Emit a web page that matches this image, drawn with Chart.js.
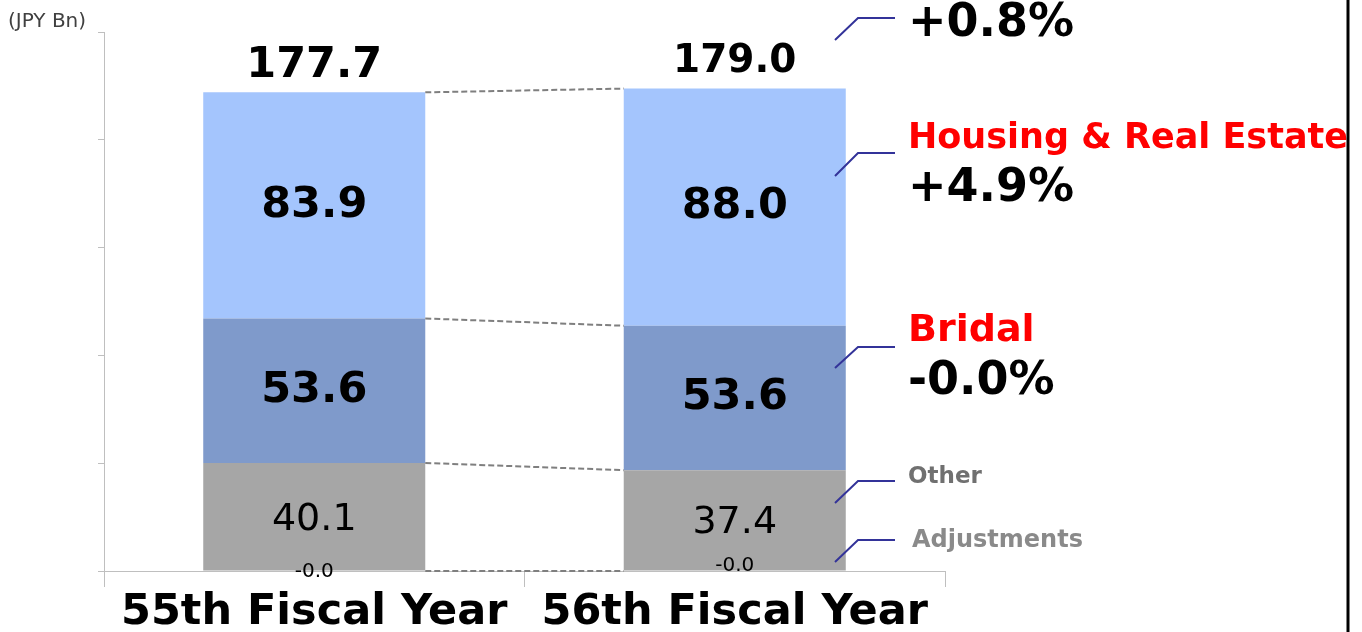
<!DOCTYPE html>
<html>
<head>
<meta charset="utf-8">
<script src="https://cdn.jsdelivr.net/npm/chart.js@4/dist/chart.umd.min.js"></script>
<style>
  body { margin: 0; background: #fff; }
  #wrap { width: 1362px; height: 632px; position: relative; }
</style>
</head>
<body>
<div id="wrap"><canvas id="myChart" width="1362" height="632"></canvas></div>
<script>
const years = ['55th Fiscal Year', '56th Fiscal Year'];
const adjustments = [-0.01, -0.01];
const other = [40.1, 37.4];
const bridal = [53.6, 53.6];
const housing = [83.9, 88.0];
const totals = [177.7, 179.0];
const yTicks = [0, 40, 80, 120, 160, 200];

const FONT = '"DejaVu Sans", Verdana, sans-serif';
const gridGrey = '#bfbfbf';

// bar value labels, connectors and the notes on the right
const labelsPlugin = {
    id: 'labels',
    afterDatasetsDraw(chart) {
        const ctx = chart.ctx;
        const metas = [0, 1, 2, 3].map(i => chart.getDatasetMeta(i));
        ctx.save();

        // dashed connectors between bar tops
        ctx.strokeStyle = '#7f7f7f';
        ctx.lineWidth = 2;
        ctx.setLineDash([6, 3]);
        metas.forEach(meta => {
            const a = meta.data[0], b = meta.data[1];
            ctx.beginPath();
            ctx.moveTo(a.x + a.width / 2, a.y);
            ctx.lineTo(b.x - b.width / 2, b.y);
            ctx.stroke();
        });
        ctx.setLineDash([]);

        ctx.textAlign = 'center';
        ctx.textBaseline = 'middle';
        const segs = [
            { meta: metas[1], data: other, font: '38px ' + FONT, dy: 3 },
            { meta: metas[2], data: bridal, font: 'bold 43px ' + FONT, dy: 0 },
            { meta: metas[3], data: housing, font: 'bold 43px ' + FONT, dy: 0 }
        ];
        segs.forEach(s => {
            s.meta.data.forEach((bar, i) => {
                ctx.font = s.font;
                ctx.fillStyle = '#000';
                ctx.fillText(s.data[i].toFixed(1), bar.x, (bar.y + bar.base) / 2 + s.dy);
            });
        });
        metas[0].data.forEach((bar, i) => {
            ctx.font = '20px ' + FONT;
            ctx.fillStyle = '#000';
            ctx.fillText(adjustments[i].toFixed(1), bar.x, bar.base - i * 6);
        });
        metas[3].data.forEach((bar, i) => {
            ctx.font = 'bold ' + (i === 0 ? 43 : 39) + 'px ' + FONT;
            ctx.fillStyle = '#000';
            ctx.fillText(totals[i].toFixed(1), bar.x, bar.y - 27);
        });

        // notes on the right
        const notes = [
            { y0: 40, y1: 18, lines: [['+0.8%', 'bold 46px', '#000', 24]] },
            { y0: 176, y1: 153, lines: [['Housing & Real Estate', 'bold 35px', '#ff0000', 139], ['+4.9%', 'bold 46px', '#000', 189]] },
            { y0: 368, y1: 347, lines: [['Bridal', 'bold 38px', '#ff0000', 331], ['-0.0%', 'bold 46px', '#000', 382]] },
            { y0: 503, y1: 481, lines: [['Other', 'bold 23px', '#707070', 477]] },
            { y0: 562, y1: 540, lines: [['Adjustments', 'bold 24px', '#8a8a8a', 541, 912]] }
        ];
        ctx.strokeStyle = '#333399';
        ctx.lineWidth = 2;
        ctx.textAlign = 'left';
        notes.forEach(n => {
            ctx.beginPath();
            ctx.moveTo(835, n.y0);
            ctx.lineTo(858, n.y1);
            ctx.lineTo(895, n.y1);
            ctx.stroke();
            n.lines.forEach(l => {
                ctx.font = l[1] + ' ' + FONT;
                ctx.fillStyle = l[2];
                ctx.fillText(l[0], l[4] || 908, l[3]);
            });
        });

        ctx.font = '20px ' + FONT;
        ctx.fillStyle = '#404040';
        ctx.fillText('(JPY Bn)', 8, 22);

        // frame edge on the right
        ctx.strokeStyle = '#000';
        ctx.lineWidth = 3;
        ctx.beginPath();
        ctx.moveTo(1348, 0);
        ctx.lineTo(1348, 632);
        ctx.stroke();
        ctx.restore();
    }
};

const ctx = document.getElementById('myChart');
const myChart = new Chart(ctx, { // eslint-disable-line
    type: 'bar',
    data: {
        labels: years,
        datasets: [
            { label: 'Adjustments', data: adjustments, backgroundColor: '#a6a6a6' },
            { label: 'Other', data: other, backgroundColor: '#a6a6a6' },
            { label: 'Bridal', data: bridal, backgroundColor: '#7f9acb' },
            { label: 'Housing & Real Estate', data: housing, backgroundColor: '#a4c5fd' }
        ]
    },
    options: {
        responsive: false,
        animation: false,
        events: [],
        layout: { padding: { top: 32, right: 417, left: 0, bottom: 0 } },
        datasets: {
            bar: { categoryPercentage: 1, barPercentage: 0.528, borderWidth: 0 }
        },
        plugins: {
            legend: { display: false },
            tooltip: { enabled: false }
        },
        scales: {
            x: {
                stacked: true,
                grid: { drawOnChartArea: false, drawTicks: true, tickLength: 16, color: gridGrey },
                border: { color: gridGrey },
                ticks: {
                    color: '#000',
                    padding: 4,
                    font: { family: FONT, size: 43, weight: 'bold', lineHeight: 1 }
                },
                afterFit: scale => { scale.height = 61; }
            },
            y: {
                stacked: true,
                min: yTicks[0],
                max: yTicks[yTicks.length - 1],
                afterBuildTicks: scale => { scale.ticks = yTicks.map(v => ({ value: v })); },
                grid: { drawOnChartArea: false, drawTicks: true, tickLength: 6, color: gridGrey },
                border: { color: gridGrey },
                ticks: { display: false },
                afterFit: scale => { scale.width = 104; }
            }
        }
    },
    plugins: [labelsPlugin]
});
</script>
</body>
</html>
